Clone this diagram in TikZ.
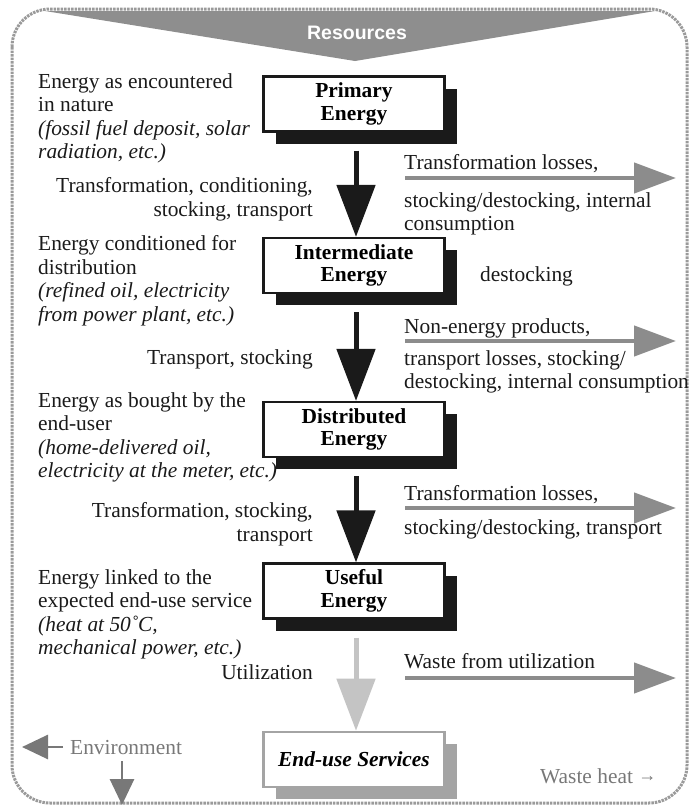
\documentclass[tikz,border=0pt]{standalone}
\usepackage{fontspec}
\setmainfont{Liberation Serif}
\newfontfamily\hvfont{Liberation Sans}
\usetikzlibrary{arrows.meta,shadows}
\definecolor{framegray}{HTML}{9A9A9A}
\definecolor{resgray}{HTML}{8E8E8E}
\definecolor{lossgray}{HTML}{8C8C8C}
\definecolor{usegray}{HTML}{C4C4C4}
\definecolor{envgray}{HTML}{787878}
\definecolor{endgray}{HTML}{A4A4A4}
\definecolor{inkblack}{HTML}{1A1A1A}
\begin{document}
\begin{tikzpicture}[x=1pt,y=-1pt,
  txt/.style={inner sep=0pt, font=\fontsize{21.4}{23.5}\selectfont, text=inkblack},
  ebox/.style={draw=inkblack, line width=2.2pt, fill=white, minimum width=181pt,
    minimum height=55pt, inner sep=0pt, align=center,
    font=\fontsize{21.4}{22.5}\selectfont\bfseries,
    drop shadow={shadow xshift=12pt, shadow yshift=-12pt, opacity=1, fill=inkblack}},
  ubox/.style={draw=endgray, line width=2.6pt, fill=white, minimum width=181pt,
    minimum height=55pt, inner sep=0pt, align=center,
    font=\fontsize{21.4}{22.5}\selectfont\bfseries\itshape,
    drop shadow={shadow xshift=12pt, shadow yshift=-12pt, opacity=1, fill=endgray}},
  flow/.style={line width=5pt, draw=inkblack, -{Triangle[width=38pt,length=52pt]}},
  useflow/.style={line width=5pt, draw=usegray, -{Triangle[width=38pt,length=52pt]}},
  loss/.style={line width=4.5pt, draw=lossgray, -{Triangle[width=30pt,length=42pt]}},
  envarrow/.style={line width=2.8pt, draw=envgray, -{Triangle[width=24pt,length=26pt]}},
]
\useasboundingbox (0,0) rectangle (696,809);

% resources chevron
\fill[resgray] (45,11) -- (655,11) -- (355,61) -- cycle;
\node[inner sep=0pt, font=\hvfont\bfseries\fontsize{19.5}{19.5}\selectfont, text=white] (res) at (357,33) {Resources};

% frame
\draw[framegray, line width=3pt, dash pattern=on 2.5pt off 1pt, rounded corners=38pt] (12,9) rectangle (687,803);

% boxes
\node[ebox] (p) at (354,104) {Primary\\Energy};
\node[ebox] (i) at (354,265.5) {Intermediate\\Energy};
\node[ebox] (d) at (354,429.5) {Distributed\\Energy};
\node[ebox] (u) at (354,591) {Useful\\Energy};
\node[ubox] (e) at (354,759.5) {End-use Services};

% main flow arrows
\draw[flow] ([xshift=2pt,yshift=-18pt]p.south) -- ([xshift=2pt]i.north);
\draw[flow] ([xshift=2pt,yshift=-18pt]i.south) -- ([xshift=2pt]d.north);
\draw[flow] ([xshift=2pt,yshift=-18pt]d.south) -- ([xshift=2pt]u.north);
\draw[useflow] ([xshift=2pt,yshift=-18pt]u.south) -- ([xshift=2pt]e.north);

% left texts
\node[txt, anchor=north west, align=left] (t1) at (38,73.4)
  {Energy as encountered\\in nature\\\textit{(fossil fuel deposit, solar}\\\textit{radiation, etc.)}};
\node[txt, anchor=north east, align=right] (f1) at (313,177.4)
  {Transformation, conditioning,\\stocking, transport};
\node[txt, anchor=north west, align=left] (t2) at (38,235.4)
  {Energy conditioned for\\distribution\\\textit{(refined oil, electricity}\\\textit{from power plant, etc.)}};
\node[txt, anchor=base east] (f2) at (313,364) {Transport, stocking};
\node[txt, anchor=north west, align=left] (t3) at (38,392)
  {Energy as bought by the\\end-user\\\textit{(home-delivered oil,}\\\textit{electricity at the meter, etc.)}};
\node[txt, anchor=north east, align=right] (f3) at (313,502.4)
  {Transformation, stocking,\\transport};
\node[txt, anchor=north west, align=left] (t4) at (38,569.4)
  {Energy linked to the\\expected end-use service\\\textit{(heat at 50\char"02DA C,}\\\textit{mechanical power, etc.)}};
\node[txt, anchor=base east] (f4) at (313,679) {Utilization};

% right side losses
\coordinate (r1s) at (405,178); \coordinate (r1e) at (676,178);
\coordinate (r2s) at (405,341); \coordinate (r2e) at (676,341);
\coordinate (r3s) at (405,508); \coordinate (r3e) at (676,508);
\coordinate (r4s) at (405,678); \coordinate (r4e) at (676,678);
\draw[loss] (r1s) -- (r1e);
\draw[loss] (r2s) -- (r2e);
\draw[loss] (r3s) -- (r3e);
\draw[loss] (r4s) -- (r4e);
\node[txt, anchor=base west] (l1a) at (404,169) {Transformation losses,};
\node[txt, anchor=north west, align=left] (l1b) at (404,192) {stocking/destocking, internal\\consumption};
\node[txt, anchor=base west] (l1c) at (480,281) {destocking};
\node[txt, anchor=base west] (l2a) at (404,333) {Non-energy products,};
\node[txt, anchor=north west, align=left] (l2b) at (404,350.4) {transport losses, stocking/\\destocking, internal consumption};
\node[txt, anchor=base west] (l3a) at (404,500) {Transformation losses,};
\node[txt, anchor=base west] (l3b) at (404,534) {stocking/destocking, transport};
\node[txt, anchor=base west] (l4a) at (404,668) {Waste from utilization};

% environment and waste heat
\node[txt, text=envgray, anchor=base west] (env) at (70,754) {Environment};
\coordinate (envl) at (22,747);
\draw[envarrow] ([xshift=-7pt,yshift=7pt]env.base west) -- (envl);
\coordinate (envs) at (122,761);
\coordinate (envd) at (122,805);
\draw[envarrow] (envs) -- (envd);
\node[txt, text=envgray, anchor=base west] (wh) at (540,783) {Waste heat \raisebox{2pt}{\fontsize{18}{18}\selectfont →}};
\end{tikzpicture}
\end{document}
